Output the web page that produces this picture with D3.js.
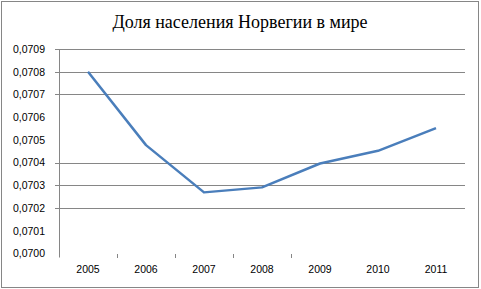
<!DOCTYPE html>
<html>
<head>
<meta charset="utf-8">
<script src="https://cdn.jsdelivr.net/npm/d3@7"></script>
<style>
  html, body { margin: 0; padding: 0; background: #fff; }
  svg { display: block; }
</style>
</head>
<body>
<svg id="chart" width="481" height="289"></svg>
<script>
// ---- data ----
const title = "Доля населения Норвегии в мире";
const years = ["2005", "2006", "2007", "2008", "2009", "2010", "2011"];
const share = [0.07080, 0.070477, 0.070269, 0.070291, 0.070396, 0.070452, 0.070552];
const yTicks = [0.0700, 0.0701, 0.0702, 0.0703, 0.0704, 0.0705, 0.0706, 0.0707, 0.0708, 0.0709];
// gridlines that are visible in the reference
const yGrid = [0.0702, 0.0703, 0.0704, 0.0707, 0.0708, 0.0709];
// category boundary tick marks visible in the reference (index of boundary after category)
const xBoundaryTicks = [1, 2, 3, 4];

// ---- layout ----
const svg = d3.select("#chart");
const W = 481, H = 289;
const plotLeft = 59, plotRight = 465, plotTop = 49, plotBottom = 253.5;

const locale = d3.formatLocale({ decimal: ",", thousands: " ", grouping: [3], currency: ["", ""] });
const fmt = locale.format(".4f");

const x = d3.scaleBand().domain(years).range([plotLeft, plotRight]).padding(0);
const y = d3.scaleLinear().domain([0.0700, 0.0709]).range([plotBottom, plotTop]);

// outer border
svg.append("rect")
  .attr("x", 1.5).attr("y", 1.5)
  .attr("width", W - 4).attr("height", H - 3)
  .attr("fill", "#fff")
  .attr("stroke", "#868686").attr("stroke-width", 1);

// title
svg.append("text")
  .attr("x", 240).attr("y", 28)
  .attr("text-anchor", "middle")
  .attr("font-family", "'Liberation Serif', serif")
  .attr("font-size", 18)
  .attr("fill", "#000")
  .text(title);

// gridlines
svg.append("g").selectAll("line").data(yGrid).join("line")
  .attr("x1", plotLeft - 4).attr("x2", plotRight)
  .attr("y1", d => Math.round(y(d)) + 0.5).attr("y2", d => Math.round(y(d)) + 0.5)
  .attr("stroke", "#868686").attr("stroke-width", 1);

// y axis line
svg.append("line")
  .attr("x1", plotLeft + 0.5).attr("x2", plotLeft + 0.5)
  .attr("y1", plotTop).attr("y2", plotBottom + 4)
  .attr("stroke", "#868686");

// y labels via axis
const yAxis = d3.axisLeft(y).tickValues(yTicks).tickFormat(fmt).tickSize(0).tickPadding(14);
const gy = svg.append("g").attr("transform", `translate(${plotLeft},0)`).call(yAxis);
gy.select(".domain").remove();
gy.selectAll("text")
  .attr("font-family", "'Liberation Sans', Arial, sans-serif")
  .attr("font-size", 10.5)
  .attr("fill", "#000");

// x tick marks at category boundaries
svg.append("g").selectAll("line").data(xBoundaryTicks).join("line")
  .attr("x1", d => Math.round(x(years[d])) + 0.5)
  .attr("x2", d => Math.round(x(years[d])) + 0.5)
  .attr("y1", plotBottom + 0.5).attr("y2", plotBottom + 4.5)
  .attr("stroke", "#868686");

// x labels via axis
const xAxis = d3.axisBottom(x).tickSize(0).tickPadding(12);
const gx = svg.append("g").attr("transform", `translate(0,${plotBottom})`).call(xAxis);
gx.select(".domain").remove();
gx.selectAll("text")
  .attr("font-family", "'Liberation Sans', Arial, sans-serif")
  .attr("font-size", 10.5)
  .attr("fill", "#000");

// line
const line = d3.line()
  .x((d, i) => x(years[i]) + x.bandwidth() / 2)
  .y(d => y(d));
svg.append("path")
  .datum(share)
  .attr("d", line)
  .attr("fill", "none")
  .attr("stroke", "#4a7ebb")
  .attr("stroke-width", 2.5)
  .attr("stroke-linejoin", "round");
</script>
</body>
</html>
